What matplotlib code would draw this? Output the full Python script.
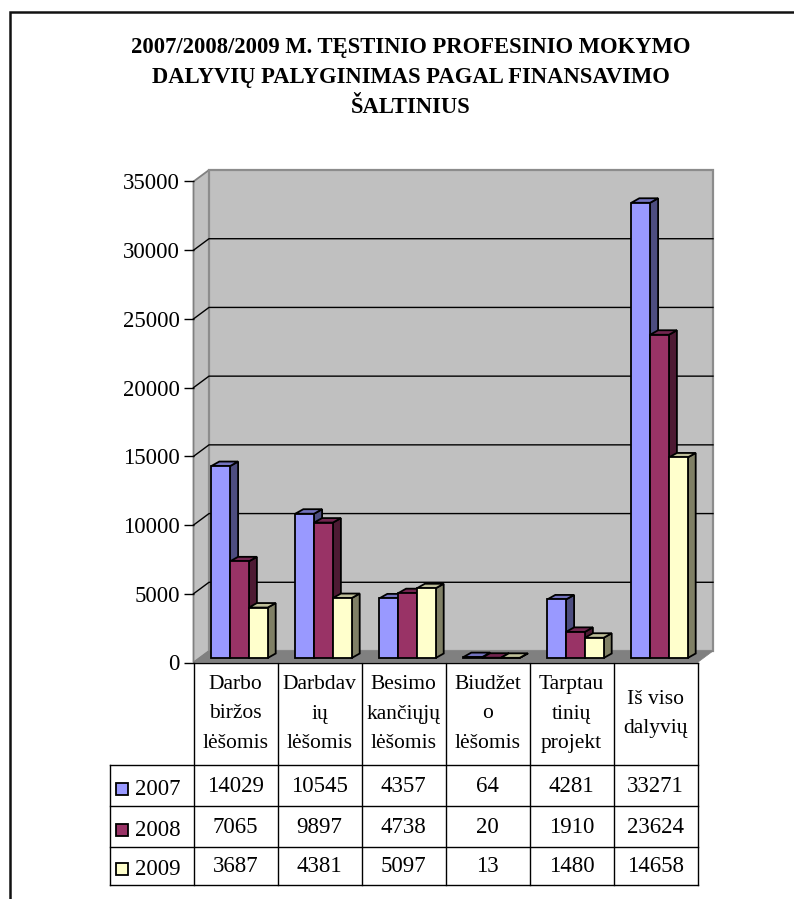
import matplotlib
matplotlib.use("Agg")
import matplotlib.pyplot as plt
from matplotlib.patches import Polygon, Rectangle

plt.rcParams['font.family'] = ['Liberation Serif', 'DejaVu Serif']

TITLE = "2007/2008/2009 M. TĘSTINIO PROFESINIO MOKYMO\nDALYVIŲ PALYGINIMAS PAGAL FINANSAVIMO\nŠALTINIUS"
categories = ["Darbo\nbiržos\nlėšomis", "Darbdav\nių\nlėšomis", "Besimo\nkančiųjų\nlėšomis",
              "Biudžet\no\nlėšomis", "Tarptau\ntinių\nprojekt", "Iš viso\ndalyvių"]
years = ["2007", "2008", "2009"]
values_2007 = [14029, 10545, 4357, 64, 4281, 33271]
values_2008 = [7065, 9897, 4738, 20, 1910, 23624]
values_2009 = [3687, 4381, 5097, 13, 1480, 14658]
yticks = [0, 5000, 10000, 15000, 20000, 25000, 30000, 35000]

front = ["#9999ff", "#993366", "#ffffcc"]
side = ["#4d4d80", "#4d1a33", "#808066"]
top = ["#7373bf", "#732650", "#bfbf99"]

W, H = 794, 899
FS = 16.5
FS_CAT = 15.5

fig = plt.figure(figsize=(W / 100, H / 100), dpi=100)

# overlay in pixel coordinates for frame, title and table
bg = fig.add_axes([0, 0, 1, 1])
bg.set_xlim(0, W)
bg.set_ylim(H, 0)
bg.axis("off")

bg.plot([9.5, 9.5, W], [H, 11.5, 11.5], color="#111111", lw=1.8, solid_joinstyle="miter")
bg.text(411, 77.5, TITLE, ha="center", va="center", fontsize=16.3, fontweight="bold", linespacing=1.54)

# chart axes = front plane of the 3d box
L, R, T, B = 193.5, 697.5, 181.5, 662.5
ax = fig.add_axes([L / W, 1 - B / H, (R - L) / W, (B - T) / H])
ax.patch.set_visible(False)
ax.set_xlim(0, 6)
ax.set_ylim(0, 35000)
for s in ax.spines.values():
    s.set_visible(False)
ax.set_xticks([])
ax.set_yticks(yticks)
ax.tick_params(axis="y", length=7.5, width=1, pad=2.5)
for lab in ax.get_yticklabels():
    lab.set_fontsize(FS)

px = 6 / (R - L)
py = 35000 / (B - T)
wall_dx, wall_dy = 15.5 * px, 11.5 * py


def poly(pts, fc, ec="black", lw=1.3, z=3):
    ax.add_patch(Polygon(pts, closed=True, facecolor=fc, edgecolor=ec, linewidth=lw,
                         zorder=z, clip_on=False, joinstyle="miter"))


# walls and floor
poly([(0, 0), (wall_dx, wall_dy), (wall_dx, 35000 + wall_dy), (0, 35000)], "#c0c0c0", "#808080", 1.3, 1)
poly([(wall_dx, wall_dy), (6 + wall_dx, wall_dy), (6 + wall_dx, 35000 + wall_dy), (wall_dx, 35000 + wall_dy)],
     "#c0c0c0", "#8c8c8c", 1.6, 1)
poly([(0, 0), (6, 0), (6 + wall_dx, wall_dy), (wall_dx, wall_dy)], "#808080", "#808080", 0.5, 1.5)

for v in yticks[1:-1]:
    ax.plot([0, wall_dx, 6 + wall_dx], [v, v + wall_dy, v + wall_dy], color="black", lw=1, zorder=2, clip_on=False)
ax.plot([0, 6], [0, 0], color="black", lw=1, zorder=6, clip_on=False)

# bars
bar_w = 18.8 * px
start = 17.8 * px
base = 4.5 * py
ddx, ddy = 8 * px, 4.5 * py
bar_scale = 0.9956  # bars sit a bit deeper in the box than the front plane
series = [values_2007, values_2008, values_2009]
for i in range(len(categories)):
    for s, vals in enumerate(series):
        x0 = i + start + s * bar_w
        x1 = x0 + bar_w
        y0 = base
        y1 = base + vals[i] * bar_scale
        poly([(x1, y0), (x1 + ddx, y0 + ddy), (x1 + ddx, y1 + ddy), (x1, y1)], side[s], z=3 + s * 0.1)
        poly([(x0, y1), (x1, y1), (x1 + ddx, y1 + ddy), (x0 + ddx, y1 + ddy)], top[s], z=3 + s * 0.1)
        poly([(x0, y0), (x1, y0), (x1, y1), (x0, y1)], front[s], z=3.05 + s * 0.1)

# table below the chart
col_x = [109.5, 193.5, 277.5, 361.5, 445.5, 529.5, 613.5, 697.5]
row_y = [662.5, 764.5, 806, 846.5, 884.5]
tbl = dict(color="black", lw=1)
for x in col_x[1:]:
    bg.plot([x, x], [row_y[0], row_y[-1]], **tbl)
bg.plot([col_x[0], col_x[0]], [row_y[1], row_y[-1]], **tbl)
for y in row_y[1:]:
    bg.plot([col_x[0], col_x[-1]], [y, y], **tbl)

for i, name in enumerate(categories):
    bg.text((col_x[i + 1] + col_x[i + 2]) / 2, 714, name, ha="center", va="center", fontsize=FS_CAT, linespacing=1.77)

for r, vals in enumerate(series):
    yc = (row_y[r + 1] + row_y[r + 2]) / 2
    bg.add_patch(Rectangle((115.5, yc + 3.5 - 6), 12, 12, facecolor=front[r], edgecolor="black", linewidth=1.3))
    bg.text(158, yc + 4, years[r], ha="center", va="center", fontsize=FS)
    for i, v in enumerate(vals):
        bg.text((col_x[i + 1] + col_x[i + 2]) / 2, yc + 1, str(v), ha="center", va="center", fontsize=FS)

fig.savefig("out.png", dpi=100)
